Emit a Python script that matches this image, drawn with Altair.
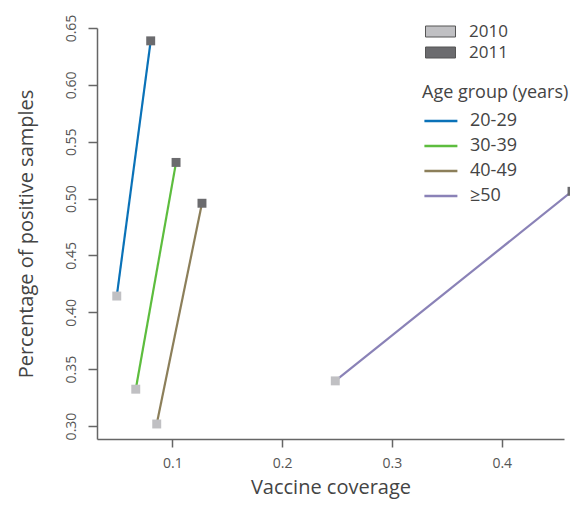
import altair as alt
import pandas as pd

groups = ["20-29", "30-39", "40-49", "≥50"]
cov_2010 = [0.0494, 0.0667, 0.0858, 0.2484]
cov_2011 = [0.0803, 0.1034, 0.1270, 0.4640]
pos_2010 = [0.4143, 0.3324, 0.3018, 0.3397]
pos_2011 = [0.6387, 0.5318, 0.4959, 0.5064]
years = ["2010", "2011"]

line_colors = ["#0a72b8", "#5dbd3e", "#8c7f5a", "#8a82b7"]
year_colors = ["#c0c0c3", "#6b6b6e"]

rows = []
for i, g in enumerate(groups):
    rows.append({"group": g, "year": years[0], "cov": cov_2010[i], "pos": pos_2010[i]})
    rows.append({"group": g, "year": years[1], "cov": cov_2011[i], "pos": pos_2011[i]})
df = pd.DataFrame(rows)

FONT = "Open Sans"

x = alt.X("cov:Q", title="Vaccine coverage",
          scale=alt.Scale(domain=[0.0314, 0.4567], nice=False, zero=False),
          axis=alt.Axis(values=[0.1, 0.2, 0.3, 0.4], format=".1f", grid=False,
                        tickSize=8, labelPadding=9, titlePadding=7,
                        labelFontSize=14, titleFontSize=20))
y = alt.Y("pos:Q", title="Percentage of positive samples",
          scale=alt.Scale(domain=[0.2886, 0.65], nice=False, zero=False),
          axis=alt.Axis(values=[0.30, 0.35, 0.40, 0.45, 0.50, 0.55, 0.60, 0.65],
                        format=".2f", grid=False, tickSize=9,
                        labelAngle=-90, labelAlign="center", labelBaseline="bottom",
                        labelPadding=10, titlePadding=28,
                        labelFontSize=14, titleFontSize=20))

lines = alt.Chart(df).mark_line(strokeWidth=2.2).encode(
    x=x, y=y,
    color=alt.Color("group:N", scale=alt.Scale(domain=groups, range=line_colors),
                    legend=alt.Legend(title="Age group (years)", orient="none",
                                      legendX=325, legendY=56,
                                      symbolType="M-1.2,0L4.8,0", symbolSize=121,
                                      symbolStrokeWidth=2.5, labelOffset=30,
                                      labelFontSize=18, titleFontSize=18,
                                      titleFontWeight="normal", rowPadding=7,
                                      titlePadding=10, padding=0)),
    detail="group:N",
)

pts = alt.Chart(df).mark_square(size=80, opacity=1).encode(
    x=x, y=y,
    fill=alt.Fill("year:N", scale=alt.Scale(domain=years, range=year_colors),
                  legend=alt.Legend(title=None, orient="none",
                                    legendX=326, legendY=-5,
                                    symbolType="M-1.2,-1.1L4.8,-1.1L4.8,1.1L-1.2,1.1Z",
                                    symbolSize=100, symbolStrokeColor="#555",
                                    symbolStrokeWidth=1, labelOffset=29,
                                    labelFontSize=17, rowPadding=3, padding=0)),
)

chart = alt.layer(lines, pts).properties(
    width=467, height=411,
    autosize=alt.AutoSizeParams(type="none"),
    padding={"left": 89, "top": 20, "right": 6, "bottom": 61},
).configure(font=FONT).configure_view(stroke=None).configure_axis(
    domainColor="#666", tickColor="#666", labelColor="#555", titleColor="#444",
    titleFontWeight="normal", domainWidth=1.5, tickWidth=1.5,
).configure_legend(labelColor="#444", titleColor="#444")

chart.save("out.html", embed_options={"renderer": "svg", "actions": False})
